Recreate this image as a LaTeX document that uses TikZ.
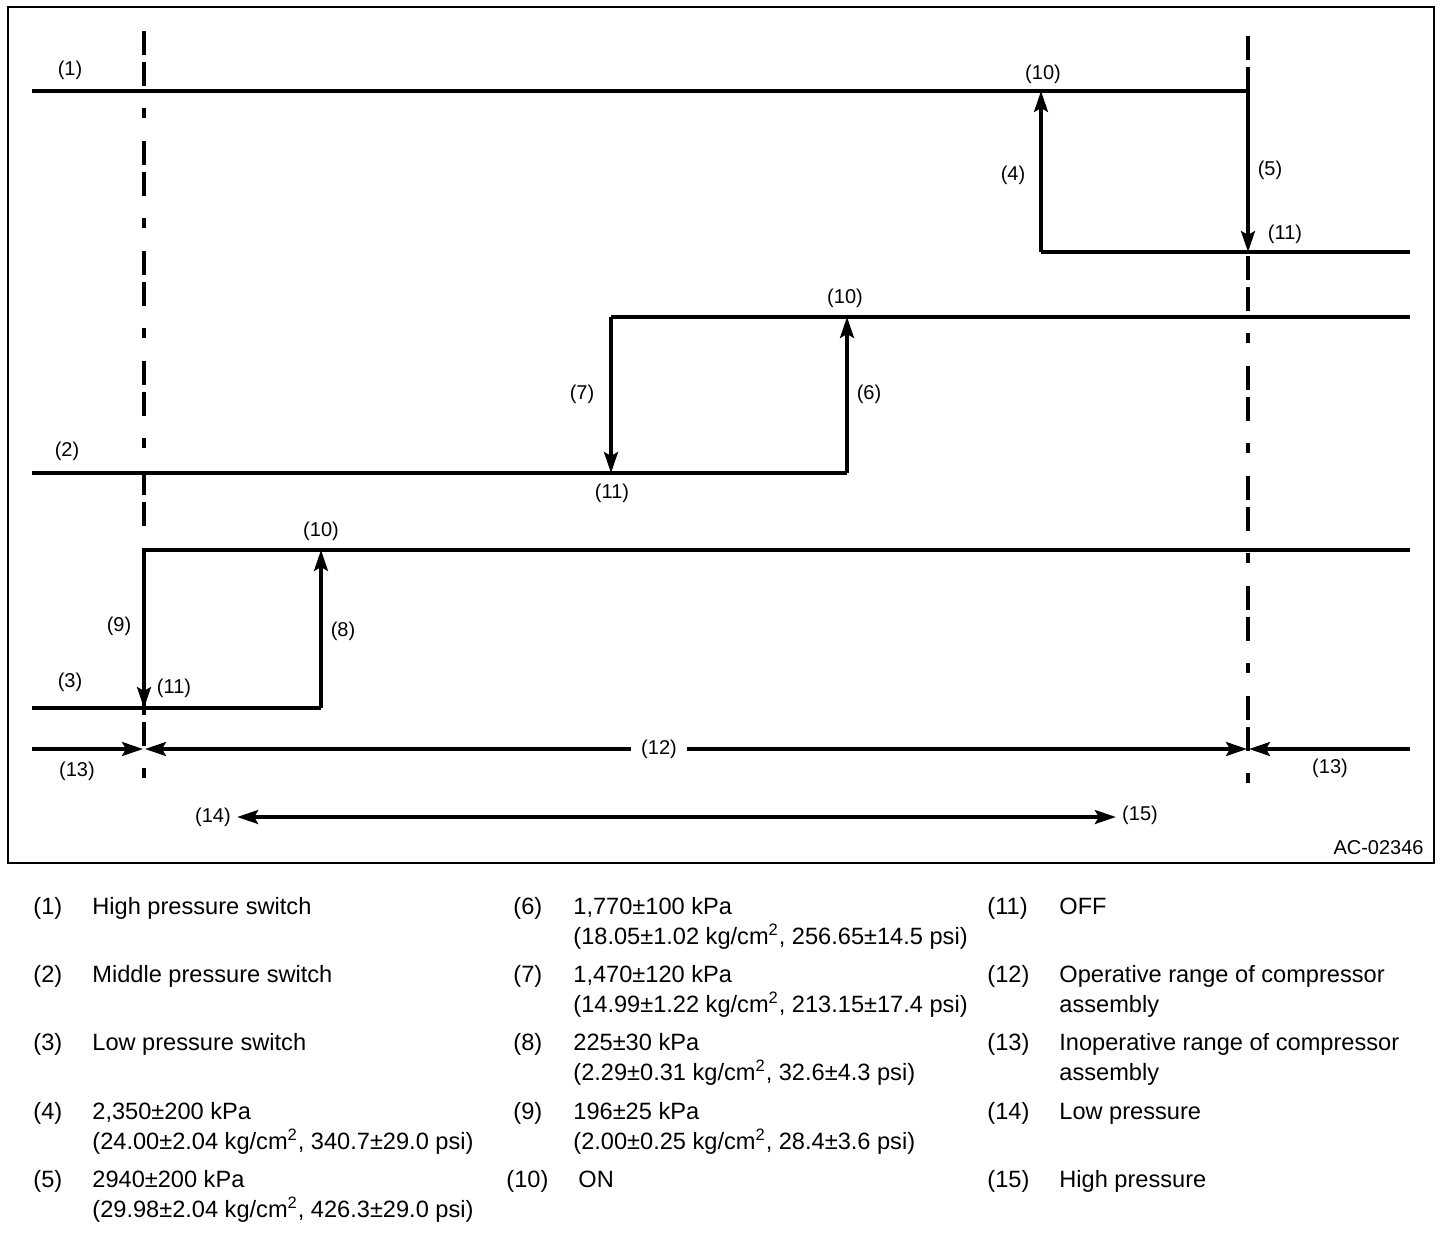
\documentclass[tikz,border=0pt]{standalone}
\usepackage{fontspec}
\setmainfont{Liberation Sans}
\usetikzlibrary{arrows.meta}
\begin{document}
\begin{tikzpicture}[x=0.5pt,y=-0.5pt,
  ln/.style={line width=1.6pt},
  arr/.style={ln,-{Stealth[length=10.5pt,width=7pt,inset=2pt]}},
  dbl/.style={ln,{Stealth[length=10.5pt,width=7pt,inset=2pt]}-{Stealth[length=10.5pt,width=7pt,inset=2pt]}},
  dashln/.style={line width=1.6pt, dash pattern=on 12pt off 3.5pt on 12pt off 11pt on 5pt off 11.5pt},
  lbl/.style={font=\fontsize{10}{12}\selectfont, inner sep=1pt},
  lg/.style={font=\fontsize{11.8}{14}\selectfont, anchor=base west, inner sep=0pt},
]
\useasboundingbox (0,0) rectangle (1456,1232);
\draw[line width=1pt] (8,7) rectangle (1434,863);

% dashed limit lines
\coordinate (dl1) at (144,31);  \coordinate (dl2) at (144,800);
\coordinate (dr1) at (1248,36); \coordinate (dr2) at (1248,800);
\draw[dashln] (dl1) -- (dl2);
\draw[dashln] (dr1) -- (dr2);

% high pressure switch
\coordinate (h1) at (32,91);   \coordinate (h2) at (1248,91);
\coordinate (h3) at (1248,252); \coordinate (h4) at (1041,252);
\coordinate (h5) at (1410,252); \coordinate (h6) at (1041,91);
\draw[ln] (h1) -- (h2);
\draw[arr] (h2) -- (h3);
\draw[ln] (h4) -- (h5);
\draw[arr] (h4) -- (h6);

% middle pressure switch
\coordinate (m1) at (32,473);  \coordinate (m2) at (847,473);
\coordinate (m3) at (847,317); \coordinate (m4) at (611,317);
\coordinate (m5) at (1410,317); \coordinate (m6) at (611,473);
\draw[ln] (m1) -- (m2);
\draw[arr] (m2) -- (m3);
\draw[ln] (m4) -- (m5);
\draw[arr] (m4) -- (m6);

% low pressure switch
\coordinate (l1) at (32,708);  \coordinate (l2) at (321,708);
\coordinate (l3) at (321,550); \coordinate (l4) at (144,550);
\coordinate (l5) at (1410,550); \coordinate (l6) at (144,708);
\draw[ln] (l1) -- (l2);
\draw[arr] (l2) -- (l3);
\draw[ln] (l4) -- (l5);
\draw[arr] (l4) -- (l6);

% ranges
\coordinate (r1) at (32,749);  \coordinate (r2) at (143,749);
\coordinate (r3) at (145,749); \coordinate (r4) at (1247,749);
\coordinate (r5) at (1410,749); \coordinate (r6) at (1249,749);
\draw[arr] (r1) -- (r2);
\node[lbl, inner xsep=5pt] (n12) at (659,749) {(12)};
\draw[arr] (n12.west) -- (r3);
\draw[arr] (n12.east) -- (r4);
\draw[arr] (r5) -- (r6);

\node[lbl, inner sep=3pt] (n14) at (213,817) {(14)};
\node[lbl, inner sep=3pt] (n15) at (1140,815) {(15)};
\draw[dbl] (n14.east |- 0,817) coordinate (p14) -- (n15.west |- 0,817) coordinate (p15);

% labels
\node[lbl] (t1) at (70,70) {(1)};
\node[lbl] (t10a) at (1043,74) {(10)};
\node[lbl] (t4) at (1013,175) {(4)};
\node[lbl] (t5) at (1270,170) {(5)};
\node[lbl] (t11a) at (1285,234) {(11)};
\node[lbl] (t10b) at (845,298) {(10)};
\node[lbl] (t7) at (582,394) {(7)};
\node[lbl] (t6) at (869,394) {(6)};
\node[lbl] (t2) at (67,451) {(2)};
\node[lbl] (t11b) at (612,493) {(11)};
\node[lbl] (t10c) at (321,531) {(10)};
\node[lbl] (t9) at (119,626) {(9)};
\node[lbl] (t8) at (343,631) {(8)};
\node[lbl] (t3) at (70,682) {(3)};
\node[lbl] (t11c) at (174,688) {(11)};
\node[lbl] (t13a) at (77,771) {(13)};
\node[lbl] (t13b) at (1330,768) {(13)};
\node[lbl, anchor=east] (ac) at (1426,848) {AC-02346};

% legend column 1
\node[lg] (k1) at (33,914) {(1)};   \node[lg] (v1) at (92,914) {High pressure switch};
\node[lg] (k2) at (33,982) {(2)};   \node[lg] (v2) at (92,982) {Middle pressure switch};
\node[lg] (k3) at (33,1050) {(3)};  \node[lg] (v3) at (92,1050) {Low pressure switch};
\node[lg] (k4) at (33,1119) {(4)};  \node[lg] (v4) at (92,1119) {2,350±200 kPa};
\node[lg] (v4b) at (92,1149) {(24.00±2.04 kg/cm\textsuperscript{2}, 340.7±29.0 psi)};
\node[lg] (k5) at (33,1187) {(5)};  \node[lg] (v5) at (92,1187) {2940±200 kPa};
\node[lg] (v5b) at (92,1217) {(29.98±2.04 kg/cm\textsuperscript{2}, 426.3±29.0 psi)};

% legend column 2
\node[lg] (k6) at (513,914) {(6)};  \node[lg] (v6) at (573,914) {1,770±100 kPa};
\node[lg] (v6b) at (573,944) {(18.05±1.02 kg/cm\textsuperscript{2}, 256.65±14.5 psi)};
\node[lg] (k7) at (513,982) {(7)};  \node[lg] (v7) at (573,982) {1,470±120 kPa};
\node[lg] (v7b) at (573,1012) {(14.99±1.22 kg/cm\textsuperscript{2}, 213.15±17.4 psi)};
\node[lg] (k8) at (513,1050) {(8)}; \node[lg] (v8) at (573,1050) {225±30 kPa};
\node[lg] (v8b) at (573,1080) {(2.29±0.31 kg/cm\textsuperscript{2}, 32.6±4.3 psi)};
\node[lg] (k9) at (513,1119) {(9)}; \node[lg] (v9) at (573,1119) {196±25 kPa};
\node[lg] (v9b) at (573,1149) {(2.00±0.25 kg/cm\textsuperscript{2}, 28.4±3.6 psi)};
\node[lg] (k10) at (506,1187) {(10)}; \node[lg] (v10) at (578,1187) {ON};

% legend column 3
\node[lg] (k11) at (987,914) {(11)};  \node[lg] (v11) at (1059,914) {OFF};
\node[lg] (k12) at (987,982) {(12)};  \node[lg] (v12) at (1059,982) {Operative range of compressor};
\node[lg] (v12b) at (1059,1012) {assembly};
\node[lg] (k13) at (987,1050) {(13)}; \node[lg] (v13) at (1059,1050) {Inoperative range of compressor};
\node[lg] (v13b) at (1059,1080) {assembly};
\node[lg] (k14) at (987,1119) {(14)}; \node[lg] (v14) at (1059,1119) {Low pressure};
\node[lg] (k15) at (987,1187) {(15)}; \node[lg] (v15) at (1059,1187) {High pressure};
\end{tikzpicture}
\end{document}
